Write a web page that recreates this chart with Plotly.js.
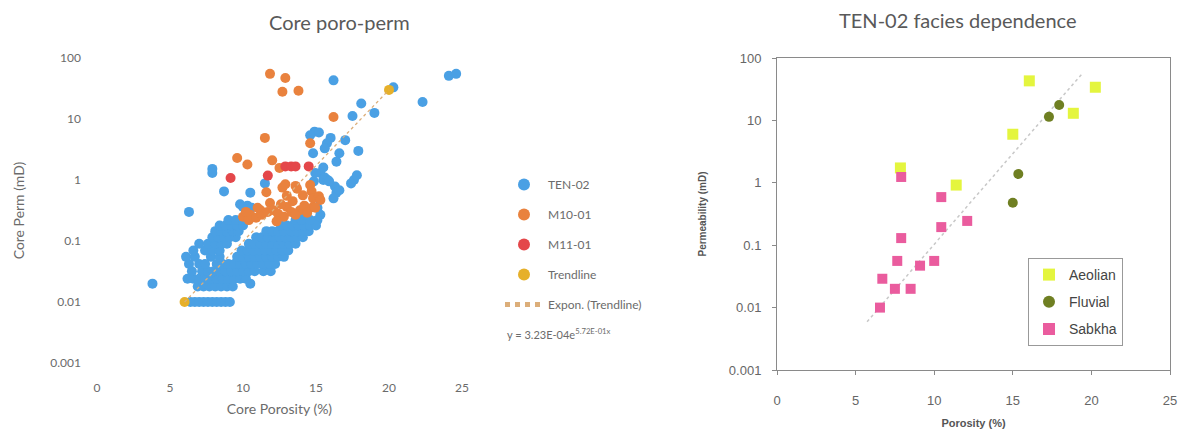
<!DOCTYPE html>
<html>
<head>
<meta charset="utf-8">
<script src="https://cdn.plot.ly/plotly-3.0.1.min.js"></script>
<style>html,body{margin:0;padding:0;background:#fff;}#chart{width:1184px;height:432px;}</style>
</head>
<body>
<div id="chart"></div>
<script>
// ---------- Left chart: Core poro-perm ----------
const ten02 = [
  [24.1,51],[24.6,55],[22.3,19],[20.3,33],[18.1,18],[19.0,12.6],[17.5,11.2],[16.2,43],
  [14.9,6.2],[15.2,6.0],[14.6,5.4],[16.0,4.9],[15.75,4.0],[15.6,3.3],[17.0,4.5],
  [14.8,2.75],[16.6,2.75],[17.9,3.0],[16.4,2.0],[15.5,1.6],
  [15.3,1.3],[14.95,1.3],[15.6,1.1],[15.5,1.0],[15.8,1.0],[16.3,0.78],[16.4,0.62],[16.6,0.68],[16.2,0.5],
  [17.6,1.0],[17.4,0.88],[17.8,1.2],[14.85,0.95],[15.9,0.95],
  [15.25,0.48],[15.1,0.35],[15.3,0.27],[14.95,0.21],[15.1,0.22],
  [7.9,1.52],[7.9,1.3],[8.7,0.65],[10.5,0.62],[6.3,0.3],[11.5,0.88],[9.8,0.4],[10.3,0.38],[10.0,0.36],[10.6,0.35],
  [3.8,0.02],[10.5,0.02],
  [6.4,0.01],[6.7,0.01],[7.0,0.01],[7.3,0.01],[7.6,0.01],[7.9,0.01],[8.2,0.01],[8.5,0.01],[8.8,0.01],[9.1,0.01],
  [6.9,0.018],[7.3,0.018],[7.7,0.018],[8.1,0.018],[8.5,0.018],[8.9,0.018],[9.3,0.018],
  [6.2,0.024],[6.6,0.024],[7.0,0.024],[7.4,0.024],[7.8,0.024],[8.2,0.024],[8.6,0.024],[9.0,0.024],[9.4,0.024],[9.8,0.024],[10.2,0.024],
  [6.5,0.032],[7.2,0.032],[7.6,0.032],[8.0,0.032],[8.4,0.032],[8.8,0.032],[9.2,0.032],[9.6,0.032],[10.0,0.032],[10.4,0.032],[10.8,0.032],[11.4,0.032],[11.9,0.032],
  [6.3,0.042],[7.0,0.042],[7.4,0.042],[8.2,0.042],[8.6,0.042],[9.0,0.042],[9.4,0.042],[9.8,0.042],[10.2,0.042],[10.6,0.042],[11.0,0.042],[11.4,0.042],[11.8,0.042],[12.2,0.042],
  [6.1,0.055],[6.7,0.055],[7.8,0.055],[8.4,0.055],[9.6,0.055],[10.0,0.055],[10.4,0.055],[10.8,0.055],[11.2,0.055],[11.6,0.055],[12.0,0.055],[12.4,0.055],[12.8,0.055],
  [6.6,0.07],[7.4,0.07],[7.9,0.07],[8.4,0.07],[9.9,0.07],[10.3,0.07],[10.7,0.07],[11.1,0.07],[11.5,0.07],[11.9,0.07],[12.3,0.07],[12.7,0.07],[13.1,0.07],
  [7.0,0.09],[7.6,0.09],[8.1,0.09],[8.5,0.09],[8.9,0.09],[10.4,0.09],[10.8,0.09],[11.2,0.09],[11.6,0.09],[12.0,0.09],[12.4,0.09],[12.8,0.09],[13.2,0.09],[13.6,0.09],
  [7.9,0.115],[8.3,0.115],[8.7,0.115],[9.1,0.115],[9.5,0.115],[10.9,0.115],[11.3,0.115],[11.7,0.115],[12.1,0.115],[12.5,0.115],[12.9,0.115],[13.3,0.115],[13.7,0.115],[14.1,0.115],
  [8.1,0.145],[8.5,0.145],[8.9,0.145],[9.3,0.145],[9.7,0.145],[11.6,0.145],[12.0,0.145],[12.4,0.145],[12.8,0.145],[13.3,0.145],[13.7,0.145],[14.1,0.145],[14.5,0.145],
  [8.4,0.18],[8.8,0.18],[9.2,0.18],[9.6,0.18],[10.0,0.18],[12.6,0.18],[13.0,0.18],[13.4,0.18],[13.8,0.18],[14.2,0.18],[14.6,0.18],[15.0,0.18],
  [9.0,0.22],[9.5,0.22],[10.0,0.22],[13.6,0.22],[14.0,0.22],[14.6,0.22],[14.2,0.27]
];
const m1001 = [
  [11.85,55],[12.9,47],[12.7,28],[13.8,29],[16.2,10.8],[11.5,4.9],[14.6,4.0],[9.6,2.3],[10.3,1.8],[12.0,2.1],[12.5,1.58],
  [11.6,0.63],[12.7,0.75],[13.0,0.55],[13.7,0.72],[14.1,0.56],[14.7,0.65],[14.8,0.5],[15.2,0.54],[12.9,0.85],[13.6,0.8],[14.6,0.83],
  [11.85,0.42],[11.2,0.32],[10.5,0.27],[13.0,0.36],[13.9,0.32],[14.8,0.36],[15.3,0.47],
  [10.0,0.25],[10.4,0.22],[10.9,0.24],[11.3,0.27],[11.7,0.3],[12.1,0.32],[12.4,0.28],[12.8,0.25],[13.3,0.3],[13.6,0.27],
  [14.2,0.38],[14.4,0.29],[14.95,0.35],[12.3,0.21],[10.2,0.3],[11.0,0.35],[12.6,0.4],[13.4,0.45]
];
const m1101 = [[9.15,1.08],[11.7,1.18],[12.9,1.67],[13.3,1.67],[13.6,1.67],[14.5,1.67]];
const trendX = [6, 20];
const trendY = [0.01, 30];
const exponCoef = [3.23e-4, 0.572];   // y = a * e^(b x), as printed on the chart
const leftTicks = [0.001, 0.01, 0.1, 1, 10, 100];
const leftTickText = ["0.001", "0.01", "0.1", "1", "10", "100"];
const xTicks = [0, 5, 10, 15, 20, 25];

// ---------- Right chart: TEN-02 facies dependence ----------
const aeolian = [[7.85,1.73],[16.05,43],[15.0,6.0],[11.4,0.92],[18.85,13],[20.25,34]];
const fluvial = [[17.3,11.4],[17.95,17.7],[15.35,1.38],[15.0,0.48]];
const sabkha = [[7.9,1.24],[10.45,0.59],[10.45,0.195],[12.1,0.245],[7.9,0.13],[7.65,0.056],[10.0,0.056],
                [9.1,0.047],[6.7,0.029],[7.5,0.020],[8.5,0.020],[6.55,0.01]];
const faciesTrendX = [5.73, 19.46];
const faciesTrendCoef = [1.285e-4, 0.669];

const xs = p => p.map(d => d[0]);
const ys = p => p.map(d => d[1]);
const W = 1184, H = 432;
const px = v => v / W, py = v => 1 - v / H;

const F = 'Lato, "Open Sans", sans-serif';
const A = '"Liberation Sans", Arial, sans-serif';

const traces = [
  {x: xs(ten02), y: ys(ten02), name: 'TEN-02', type: 'scatter', mode: 'markers',
   marker: {color: '#4aa0e4', size: 10}, xaxis: 'x', yaxis: 'y', legend: 'legend', legendgroup: 'a'},
  {x: xs(m1001), y: ys(m1001), name: 'M10-01', type: 'scatter', mode: 'markers',
   marker: {color: '#e9823e', size: 10}, xaxis: 'x', yaxis: 'y', legend: 'legend', legendgroup: 'b'},
  {x: xs(m1101), y: ys(m1101), name: 'M11-01', type: 'scatter', mode: 'markers',
   marker: {color: '#e4474a', size: 10}, xaxis: 'x', yaxis: 'y', legend: 'legend', legendgroup: 'c'},
  {x: trendX, y: trendY, name: 'Trendline', type: 'scatter', mode: 'markers',
   marker: {color: '#e6b02a', size: 10}, xaxis: 'x', yaxis: 'y', legend: 'legend', legendgroup: 'd'},
  {x: trendX, y: trendX.map(x => exponCoef[0] * Math.exp(exponCoef[1] * x)), name: 'Expon. (Trendline)',
   type: 'scatter', mode: 'lines', line: {color: '#dcae7a', width: 1.3, dash: 'dot'},
   xaxis: 'x', yaxis: 'y', legend: 'legend', legendgroup: 'e'},

  {x: faciesTrendX, y: faciesTrendX.map(x => faciesTrendCoef[0] * Math.exp(faciesTrendCoef[1] * x)),
   type: 'scatter', mode: 'lines', line: {color: '#c8c8c8', width: 1.5, dash: 'dot'},
   xaxis: 'x2', yaxis: 'y2', showlegend: false, hoverinfo: 'skip'},
  {x: xs(aeolian), y: ys(aeolian), name: 'Aeolian', type: 'scatter', mode: 'markers',
   marker: {color: '#e4f53e', size: 11, symbol: 'square'}, xaxis: 'x2', yaxis: 'y2', legend: 'legend2', legendgroup: 'f'},
  {x: xs(fluvial), y: ys(fluvial), name: 'Fluvial', type: 'scatter', mode: 'markers',
   marker: {color: '#6f7f22', size: 10, symbol: 'circle'}, xaxis: 'x2', yaxis: 'y2', legend: 'legend2', legendgroup: 'g'},
  {x: xs(sabkha), y: ys(sabkha), name: 'Sabkha', type: 'scatter', mode: 'markers',
   marker: {color: '#ea5c9e', size: 10, symbol: 'square'}, xaxis: 'x2', yaxis: 'y2', legend: 'legend2', legendgroup: 'h'}
];

const layout = {
  width: W, height: H,
  margin: {l: 0, r: 0, t: 0, b: 0},
  paper_bgcolor: '#ffffff', plot_bgcolor: 'rgba(0,0,0,0)',
  showlegend: true,
  xaxis: {
    domain: [px(97), px(462)], range: [0, 25], anchor: 'y',
    showgrid: false, zeroline: false, showline: false, ticks: '',
    tickvals: xTicks, ticktext: xTicks.map(String),
    tickfont: {family: F, size: 12, color: '#6b6b6b'}, ticklabelstandoff: 16,
    title: {text: 'Core Porosity (%)', font: {family: F, size: 14, color: '#6b6b6b'}, standoff: 10},
    automargin: false
  },
  yaxis: {
    domain: [py(363), py(58)], type: 'log', range: [-3, 2], anchor: 'x',
    showgrid: false, zeroline: false, showline: false, ticks: '',
    tickvals: leftTicks, ticktext: leftTickText,
    tickfont: {family: F, size: 12, color: '#6b6b6b'}, ticklabelstandoff: 15,
    title: {text: 'Core Perm (mD)', font: {family: F, size: 14, color: '#6b6b6b'}, standoff: 22},
    automargin: false
  },
  xaxis2: {
    domain: [px(777), px(1170)], range: [0, 25], anchor: 'y2',
    showgrid: false, zeroline: false, showline: true, mirror: true, linecolor: '#8a8a8a', linewidth: 1,
    ticks: 'outside', ticklen: 4, tickcolor: '#8a8a8a',
    tickvals: xTicks, ticktext: xTicks.map(String),
    tickfont: {family: A, size: 13, color: '#666666'}, ticklabelstandoff: 14,
    title: {text: '<b>Porosity (%)</b>', font: {family: A, size: 11, color: '#555555'}, standoff: 12},
    automargin: false
  },
  yaxis2: {
    domain: [py(370), py(58)], type: 'log', range: [-3, 2], anchor: 'x2',
    showgrid: false, zeroline: false, showline: true, mirror: true, linecolor: '#8a8a8a', linewidth: 1,
    ticks: 'outside', ticklen: 4, tickcolor: '#8a8a8a',
    tickvals: leftTicks, ticktext: leftTickText,
    tickfont: {family: A, size: 13, color: '#666666'}, ticklabelstandoff: 8,
    title: {text: '<b>Permeability (mD)</b>', font: {family: A, size: 10, color: '#555555'}, standoff: 20},
    automargin: false
  },
  legend: {
    x: px(500), y: py(170), xanchor: 'left', yanchor: 'top',
    font: {family: F, size: 12, color: '#6b6b6b'}, tracegroupgap: 11, itemwidth: 38,
    bgcolor: 'rgba(0,0,0,0)', itemsizing: 'constant'
  },
  legend2: {
    x: px(1028), y: py(258), xanchor: 'left', yanchor: 'top',
    font: {family: A, size: 14, color: '#444444'}, tracegroupgap: 6,
    bgcolor: '#ffffff', bordercolor: '#999999', borderwidth: 1, itemsizing: 'constant'
  },
  annotations: [
    {text: 'Core poro-perm', xref: 'paper', yref: 'paper', x: px(339), y: py(22),
     xanchor: 'center', yanchor: 'middle', showarrow: false, font: {family: F, size: 20, color: '#595959'}},
    {text: 'TEN-02 facies dependence', xref: 'paper', yref: 'paper', x: px(958), y: py(20),
     xanchor: 'center', yanchor: 'middle', showarrow: false, font: {family: F, size: 20, color: '#595959'}},
    {text: 'y = 3.23E-04e<sup>5.72E-01x</sup>', xref: 'paper', yref: 'paper', x: px(505), y: py(333),
     xanchor: 'left', yanchor: 'middle', showarrow: false, font: {family: F, size: 11, color: '#6b6b6b'}}
  ]
};

Plotly.newPlot('chart', traces, layout, {staticPlot: true, displayModeBar: false});
</script>
</body>
</html>
